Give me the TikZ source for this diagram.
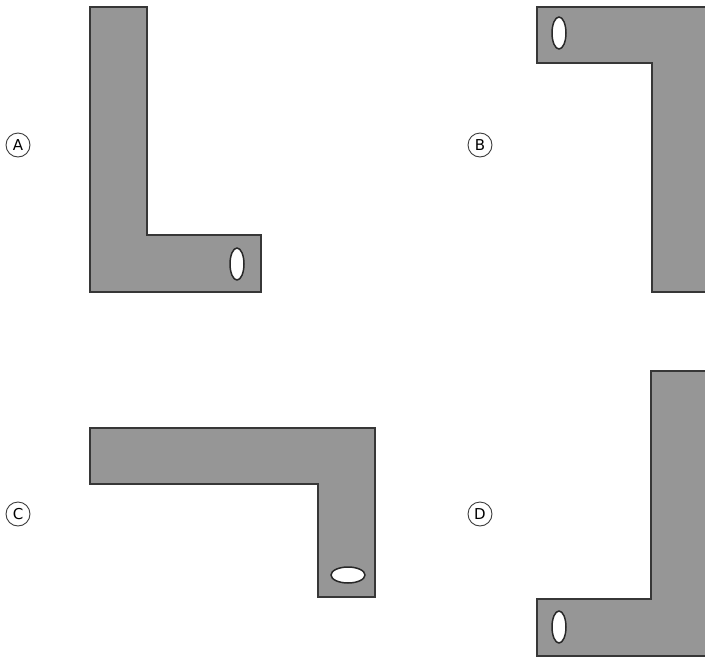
\documentclass[tikz,border=0pt]{standalone}
\usepackage{fontspec}
\newfontfamily\lblfont{DejaVu Sans}
\begin{document}
\begin{tikzpicture}[x=1pt,y=-1pt,
  part/.style={fill={rgb,255:red,150;green,150;blue,150},draw={rgb,255:red,55;green,55;blue,55},line width=2pt,line join=miter},
  hole/.style={fill=white,draw={rgb,255:red,40;green,40;blue,40},line width=1.5pt},
  lbl/.style={circle,draw={rgb,255:red,60;green,60;blue,60},line width=0.9pt,minimum size=24pt,inner sep=0pt,font=\lblfont\fontsize{15}{15}\selectfont}]
\useasboundingbox (0,0) rectangle (705,659);
\clip (0,0) rectangle (705,659);
% A
\draw[part] (90,7) -- (147,7) -- (147,235) -- (261,235) -- (261,292) -- (90,292) -- cycle;
\draw[hole] (237,264) ellipse [x radius=7, y radius=16];
\node[lbl] (la) at (18,145) {A};
% B
\draw[part] (537,7) -- (720,7) -- (720,292) -- (652,292) -- (652,63) -- (537,63) -- cycle;
\draw[hole] (559,33) ellipse [x radius=7, y radius=16];
\node[lbl] (lb) at (480,145) {B};
% C
\draw[part] (90,428) -- (375,428) -- (375,597) -- (318,597) -- (318,484) -- (90,484) -- cycle;
\draw[hole] (348,575) ellipse [x radius=17, y radius=8];
\node[lbl] (lc) at (18,514) {C};
% D
\draw[part] (651,371) -- (720,371) -- (720,656) -- (537,656) -- (537,599) -- (651,599) -- cycle;
\draw[hole] (559,627) ellipse [x radius=7, y radius=16];
\node[lbl] (ld) at (480,514) {D};
\end{tikzpicture}
\end{document}
